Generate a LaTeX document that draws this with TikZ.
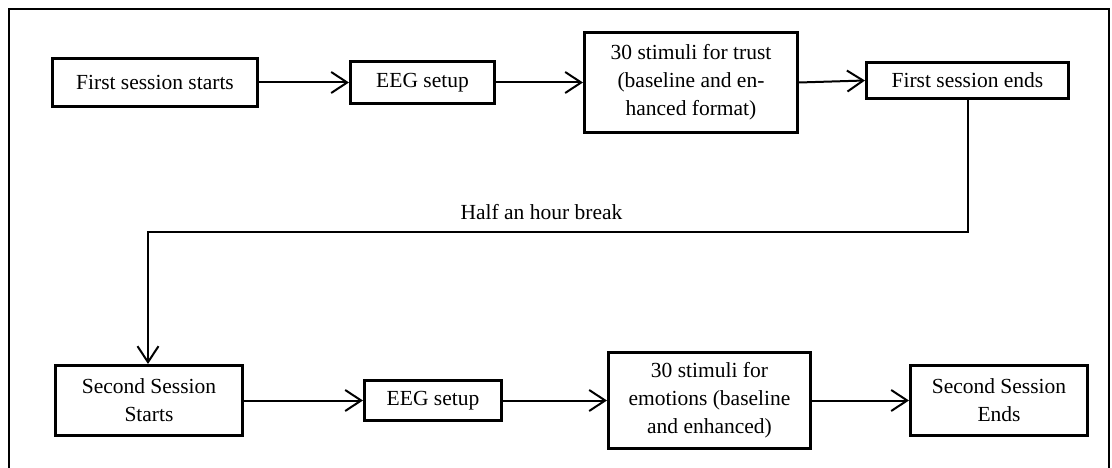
\documentclass[tikz,border=0pt]{standalone}
\usepackage{fontspec}
\setmainfont{Liberation Serif}
\usetikzlibrary{arrows.meta}
\begin{document}
\begin{tikzpicture}[x=1pt,y=-1pt,
  box/.style={draw=black,line width=3pt,align=center,inner sep=0pt,
    font=\fontsize{21.5}{28}\selectfont},
  arr/.style={line width=2pt,-{Straight Barb[length=16pt,width=21pt,line width=2pt]}},
  lbl/.style={font=\fontsize{21.5}{28}\selectfont,inner sep=0pt}]
\useasboundingbox (0,0) rectangle (1112,468);
\draw[line width=2pt] (9,470) -- (9,9) -- (1109,9) -- (1109,470);
\node[box,minimum width=205pt,minimum height=48pt] (f1) at (155,82.5) {First session starts};
\node[box,minimum width=144pt,minimum height=42pt] (e1) at (422.5,82.5) {EEG setup};
\node[box,minimum width=213pt,minimum height=100pt] (t1) at (691,82.5) {30 stimuli for trust\\(baseline and en-\\hanced format)};
\node[box,minimum width=202pt,minimum height=36pt] (f2) at (967.5,80.5) {First session ends};
\node[box,minimum width=187pt,minimum height=70pt] (s1) at (149,400.5) {Second Session\\Starts};
\node[box,minimum width=137pt,minimum height=40pt] (e2) at (433,400.5) {EEG setup};
\node[box,minimum width=202pt,minimum height=96pt] (t2) at (709.5,400.5) {30 stimuli for\\emotions (baseline\\and enhanced)};
\node[box,minimum width=177pt,minimum height=70pt] (s2) at (999,400.5) {Second Session\\Ends};
\coordinate (brk) at (148,232);
\node[lbl] (bl) at (541.5,212) {Half an hour break};
\draw[arr] (f1) -- (e1);
\draw[arr] (e1) -- (t1);
\draw[arr] (t1.east) -- (f2.west);
\draw[arr] (f2.south) |- (brk) -- (brk |- s1.north);
\draw[arr] (s1) -- (e2);
\draw[arr] (e2) -- (t2);
\draw[arr] (t2) -- (s2);
\end{tikzpicture}
\end{document}
